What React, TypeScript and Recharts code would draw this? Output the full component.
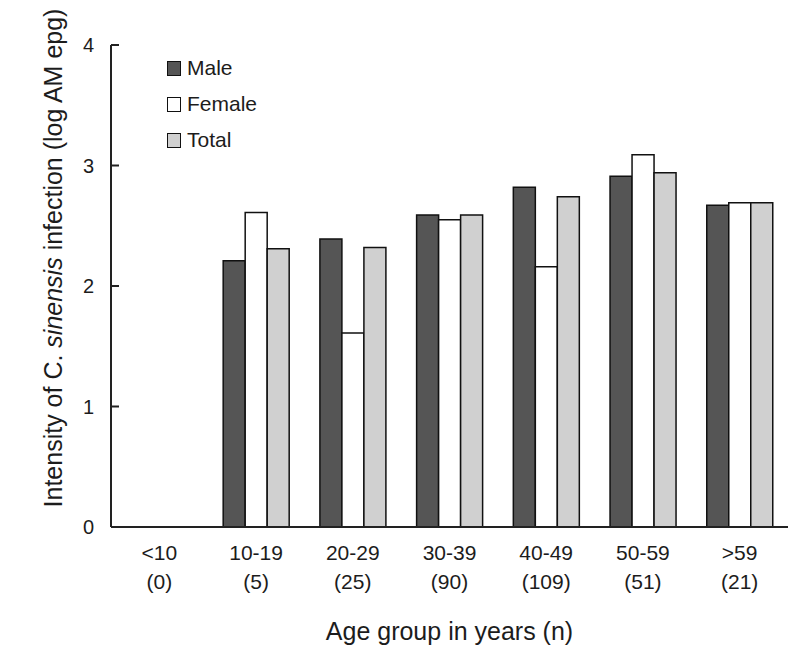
import React from 'react';
import { BarChart, Bar, XAxis, YAxis, Legend } from 'recharts';

const categories = ['<10', '10-19', '20-29', '30-39', '40-49', '50-59', '>59'];
const sampleSizes = ['(0)', '(5)', '(25)', '(90)', '(109)', '(51)', '(21)'];
const maleValues: (number | null)[] = [null, 2.21, 2.39, 2.59, 2.82, 2.91, 2.67];
const femaleValues: (number | null)[] = [null, 2.61, 1.61, 2.55, 2.16, 3.09, 2.69];
const totalValues: (number | null)[] = [null, 2.31, 2.32, 2.59, 2.74, 2.94, 2.69];
const yTicks = [0, 1, 2, 3, 4];

const seriesNames = ['Male', 'Female', 'Total'];
const seriesColors = ['#555555', '#ffffff', '#d0d0d0'];

const data = categories.map((c, i) => ({
  category: c,
  n: sampleSizes[i],
  Male: maleValues[i],
  Female: femaleValues[i],
  Total: totalValues[i],
}));

const FONT = '"Liberation Sans", Arial, Helvetica, sans-serif';
const TEXT = '#1c1c1c';

const XTick = (props: any) => {
  const { x, y, payload, index } = props;
  return (
    <text x={x} y={y} textAnchor="middle" fontFamily={FONT} fontSize={21} fill={TEXT}>
      <tspan x={x} dy={33}>{payload.value}</tspan>
      <tspan x={x} dy={29}>{sampleSizes[index]}</tspan>
    </text>
  );
};

const YTick = (props: any) => {
  const { x, y, payload } = props;
  return (
    <g>
      <line x1={x} y1={y} x2={x + 8} y2={y} stroke="#222" strokeWidth={2} />
      <text x={x - 17} y={y} dy={7} textAnchor="end" fontFamily={FONT} fontSize={20} fill={TEXT}>
        {payload.value}
      </text>
    </g>
  );
};

const YLabel = () => (
  <text
    x={62}
    y={258}
    transform="rotate(-90, 62, 258)"
    textAnchor="middle"
    fontFamily={FONT}
    fontSize={25}
    fill={TEXT}
  >
    Intensity of C. <tspan fontStyle="italic">sinensis</tspan> infection (log AM epg)
  </text>
);

const LegendContent = () => (
  <div style={{ fontFamily: FONT, fontSize: 21, color: TEXT }}>
    {seriesNames.map((name, i) => (
      <div key={name} style={{ display: 'flex', alignItems: 'center', height: 36 }}>
        <span
          style={{
            display: 'inline-block',
            width: 12,
            height: 13,
            background: seriesColors[i],
            border: '1.5px solid #111',
            marginRight: 6,
          }}
        />
        <span>{name}</span>
      </div>
    ))}
  </div>
);

export default function App() {
  return (
    <div style={{ position: 'absolute', left: 0, top: 0, width: 800, height: 665, background: '#fff' }}>
      <BarChart
        width={800}
        height={665}
        data={data}
        margin={{ top: 45, right: 12, bottom: 0, left: 0 }}
        barCategoryGap="16%"
        barGap={0}
      >
        <XAxis
          dataKey="category"
          height={138}
          tickLine={false}
          tickSize={0}
          tickMargin={0}
          axisLine={{ stroke: '#222', strokeWidth: 2 }}
          tick={<XTick />}
          interval={0}
          label={{
            value: 'Age group in years (n)',
            position: 'insideBottom',
            offset: 25,
            style: { fontFamily: FONT, fontSize: 25, fill: TEXT },
          }}
        />
        <YAxis
          width={111}
          domain={[0, 4]}
          ticks={yTicks}
          tickLine={false}
          tickSize={0}
          tickMargin={0}
          axisLine={{ stroke: '#222', strokeWidth: 2 }}
          tick={<YTick />}
          label={{ content: () => <YLabel /> }}
        />
        <Legend
          layout="vertical"
          align="center"
          verticalAlign="middle"
          content={<LegendContent />}
          wrapperStyle={{ position: 'absolute', left: 167, top: 50, width: 140 }}
        />
        {seriesNames.map((name, i) => (
          <Bar
            key={name}
            dataKey={name}
            fill={seriesColors[i]}
            stroke="#111"
            strokeWidth={1.5}
            isAnimationActive={false}
          />
        ))}
      </BarChart>
    </div>
  );
}
